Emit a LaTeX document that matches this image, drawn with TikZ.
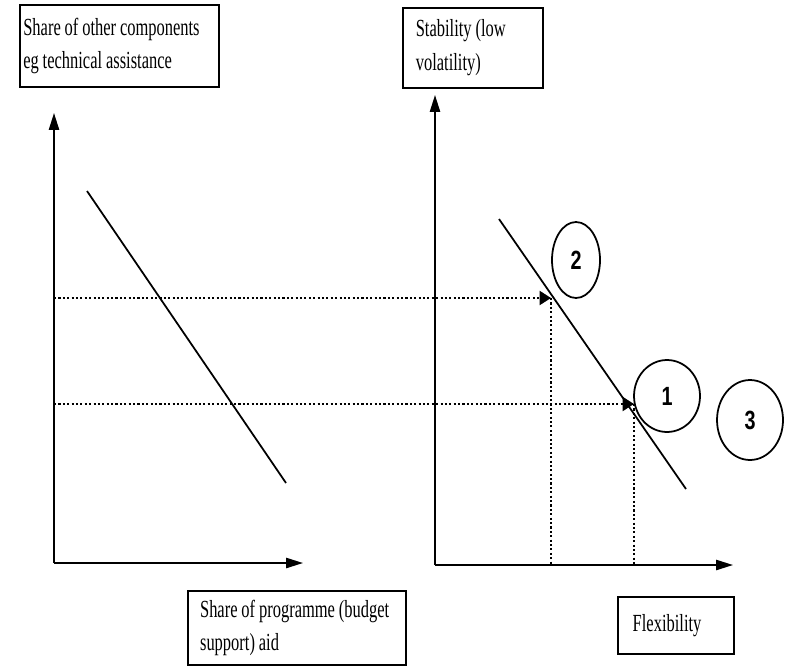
\documentclass[tikz,border=0pt]{standalone}
\usepackage{fontspec}
\setmainfont[FakeStretch=0.67]{Liberation Serif}
\newfontfamily\digitfont[FakeStretch=0.75]{Liberation Sans}
\usetikzlibrary{arrows.meta}
\usetikzlibrary{shapes.geometric}

\newcommand\captionspacing{\spaceskip=2.2pt plus 1pt minus 0.5pt\relax
  \xspaceskip=2.2pt plus 1pt\relax\hyphenpenalty=10000\relax}

\tikzset{
  caption/.style={draw,line width=0.9pt,anchor=north west,align=flush left,
    font=\fontsize{14}{19}\selectfont,inner ysep=0pt,
    execute at begin node=\captionspacing},
  axis/.style={line width=1pt,-{Triangle[length=9.6pt,width=5.8pt]}},
  guide/.style={line width=1.2pt,dash pattern=on 1.2pt off 1.3pt},
  guidearrow/.style={guide,-{Triangle[length=6.5pt,width=8pt]}},
  tradeoff/.style={line width=1pt},
  pick/.style={draw,ellipse,line width=1pt,inner sep=0pt,
    font=\digitfont\bfseries\fontsize{15}{15}\selectfont}
}

\begin{document}
\begin{tikzpicture}[x=0.02cm,y=-0.02cm]
\useasboundingbox (0,0) rectangle (787,666);

% axis corners
\coordinate (lorigin) at (54,563);
\coordinate (ltop) at (54,113);
\coordinate (lright) at (303,563);
\coordinate (rorigin) at (435,565);
\coordinate (rtop) at (435,95);
\coordinate (rright) at (733,565);

% points on the right curve
\coordinate (hi) at (551,298);
\coordinate (lo) at (634,404);

% guides
\draw[guidearrow] (hi -| lorigin) -- (hi);
\draw[guidearrow] (lo -| lorigin) -- (lo);
\draw[guide] (hi) -- (hi |- rorigin);
\draw[guide] (lo) -- (lo |- rorigin);

% trade-off lines
\draw[tradeoff] (87,191) -- (286,483);
\draw[tradeoff] (499,219) -- (686,489);

% axes
\draw[axis] (lorigin) -- (ltop);
\draw[axis] (lorigin) -- (lright);
\draw[axis] (rorigin) -- (rtop);
\draw[axis] (rorigin) -- (rright);

% labels
\node[caption,minimum width=3.98cm,minimum height=1.64cm,inner xsep=2pt,
  text width=3.98cm-4pt] (othershare) at (19,4)
  {Share of other components\\eg technical assistance};
\node[caption,minimum width=2.8cm,minimum height=1.6cm,inner xsep=7.4pt,
  text width=2.8cm-14.8pt] (stability) at (402,7)
  {Stability (low\\volatility)};
\node[caption,minimum width=4.36cm,minimum height=1.48cm,inner xsep=7pt,
  text width=4.36cm-14pt] (programme) at (187,590)
  {Share of programme (budget\\support) aid};
\node[caption,minimum width=2.32cm,minimum height=1.14cm,inner xsep=8.5pt,
  text width=2.32cm-17pt] (flexibility) at (617,596)
  {Flexibility};

% options
\node[pick,minimum width=0.96cm,minimum height=1.52cm] (opt2) at (576,260) {2};
\node[pick,minimum width=1.32cm,minimum height=1.44cm] (opt1) at (667,396) {1};
\node[pick,minimum width=1.32cm,minimum height=1.6cm] (opt3) at (750,420) {3};

\end{tikzpicture}
\end{document}
